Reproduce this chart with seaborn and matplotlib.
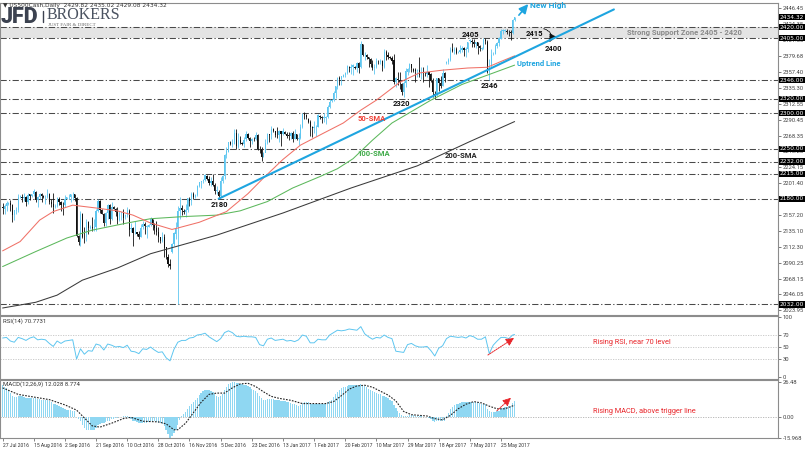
import matplotlib
matplotlib.use("Agg")
import matplotlib.pyplot as plt
import seaborn as sns
import numpy as np

sns.set_theme(style="white")
plt.rcParams['font.family'] = ['Roboto', 'DejaVu Sans']

# ---------------- data (US500Cash, Daily; one bar per session incl. Sunday bars) ----------------
opens = [
    2169, 2166, 2170, 2173, 2174, 2171, 2157, 2163, 2164, 2183,
    2183, 2181, 2182, 2175, 2186, 2184, 2186, 2190, 2178, 2182,
    2187, 2184, 2182, 2183, 2187, 2175, 2172, 2169, 2170, 2180,
    2176, 2171, 2171, 2180, 2182, 2183, 2186, 2186, 2181, 2128,
    2120, 2159, 2127, 2126, 2147, 2139, 2141, 2139, 2140, 2163,
    2177, 2164, 2159, 2146, 2160, 2171, 2151, 2168, 2166, 2161,
    2150, 2160, 2161, 2154, 2157, 2163, 2137, 2139, 2133, 2133,
    2130, 2127, 2140, 2144, 2141, 2141, 2143, 2151, 2143, 2139,
    2133, 2126, 2121, 2126, 2112, 2098, 2089, 2105, 2116, 2131,
    2140, 2163, 2167, 2163, 2162, 2164, 2180, 2177, 2187, 2182,
    2185, 2198, 2203, 2205, 2206, 2212, 2208, 2202, 2205, 2199,
    2191, 2190, 2184, 2205, 2212, 2241, 2246, 2259, 2257, 2257,
    2272, 2253, 2262, 2258, 2257, 2263, 2271, 2265, 2261, 2264,
    2263, 2269, 2250, 2249, 2239, 2244, 2258, 2271, 2269, 2277,
    2275, 2269, 2269, 2275, 2270, 2274, 2271, 2268, 2268, 2272,
    2264, 2270, 2264, 2265, 2280, 2298, 2297, 2292, 2288, 2281,
    2279, 2280, 2281, 2296, 2294, 2293, 2293, 2295, 2308, 2317,
    2318, 2328, 2337, 2349, 2347, 2351, 2353, 2356, 2365, 2363,
    2364, 2365, 2363, 2370, 2364, 2396, 2382, 2381, 2378, 2375,
    2368, 2363, 2365, 2372, 2371, 2373, 2365, 2385, 2381, 2378,
    2377, 2374, 2344, 2348, 2346, 2341, 2330, 2342, 2358, 2361,
    2368, 2362, 2359, 2359, 2360, 2353, 2357, 2355, 2354, 2357,
    2354, 2345, 2327, 2325, 2349, 2342, 2338, 2356, 2370, 2371,
    2374, 2389, 2387, 2389, 2385, 2386, 2388, 2391, 2388, 2389,
    2401, 2401, 2399, 2397, 2399, 2394, 2390, 2391, 2402, 2400,
    2357, 2366, 2382, 2383, 2394, 2398, 2404, 2415, 2415, 2415,
    2413, 2413, 2412, 2429.82]
highs = [
    2174, 2172, 2177, 2175, 2178, 2172, 2164, 2168, 2186, 2185,
    2186, 2188, 2184, 2188, 2187, 2187, 2194, 2191, 2184, 2188,
    2188, 2185, 2185, 2194, 2188, 2180, 2188, 2172, 2183, 2183,
    2177, 2175, 2185, 2183, 2186, 2187, 2190, 2187, 2182, 2129,
    2163, 2160, 2141, 2152, 2149, 2143, 2154, 2151, 2165, 2179,
    2178, 2165, 2160, 2162, 2173, 2173, 2175, 2170, 2167, 2169,
    2163, 2162, 2165, 2158, 2169, 2165, 2146, 2140, 2149, 2134,
    2135, 2145, 2149, 2147, 2143, 2144, 2155, 2152, 2146, 2149,
    2141, 2127, 2133, 2131, 2113, 2102, 2096, 2118, 2133, 2147,
    2170, 2182, 2171, 2165, 2172, 2181, 2182, 2189, 2190, 2186,
    2199, 2204, 2205, 2208, 2214, 2213, 2212, 2211, 2214, 2202,
    2198, 2192, 2210, 2213, 2242, 2252, 2260, 2261, 2263, 2278,
    2277, 2272, 2268, 2260, 2267, 2275, 2272, 2266, 2265, 2266,
    2274, 2271, 2254, 2253, 2246, 2264, 2272, 2271, 2282, 2279,
    2275, 2280, 2276, 2275, 2279, 2275, 2273, 2273, 2273, 2275,
    2277, 2271, 2272, 2284, 2300, 2301, 2299, 2293, 2290, 2282,
    2289, 2283, 2299, 2297, 2296, 2300, 2296, 2311, 2319, 2319,
    2331, 2338, 2351, 2352, 2352, 2354, 2357, 2367, 2366, 2369,
    2368, 2366, 2371, 2371, 2401, 2397, 2386, 2382, 2379, 2377,
    2374, 2369, 2377, 2374, 2376, 2374, 2390, 2388, 2385, 2380,
    2380, 2382, 2351, 2358, 2357, 2342, 2345, 2363, 2363, 2370,
    2369, 2363, 2363, 2361, 2379, 2364, 2365, 2357, 2367, 2358,
    2356, 2349, 2331, 2349, 2349, 2352, 2361, 2357, 2373, 2377,
    2392, 2398, 2392, 2392, 2387, 2395, 2394, 2392, 2392, 2400,
    2403, 2404, 2404, 2400, 2399, 2395, 2392, 2405, 2405, 2402,
    2375, 2390, 2385, 2396, 2400, 2406, 2418, 2417, 2417, 2417,
    2416, 2416, 2431, 2435.02]
lows = [
    2159, 2159, 2163, 2171, 2163, 2148, 2150, 2158, 2162, 2181,
    2176, 2177, 2170, 2173, 2178, 2183, 2184, 2175, 2168, 2179,
    2176, 2181, 2172, 2181, 2172, 2168, 2160, 2167, 2168, 2171,
    2163, 2157, 2169, 2179, 2179, 2175, 2178, 2177, 2127, 2115,
    2114, 2125, 2118, 2121, 2130, 2137, 2135, 2135, 2135, 2162,
    2160, 2158, 2142, 2142, 2151, 2145, 2150, 2165, 2156, 2145,
    2149, 2150, 2144, 2152, 2155, 2128, 2133, 2114, 2131, 2128,
    2124, 2126, 2137, 2131, 2125, 2140, 2142, 2136, 2131, 2129,
    2119, 2118, 2120, 2098, 2096, 2085, 2082, 2104, 2114, 2124,
    2032, 2151, 2157, 2158, 2154, 2162, 2170, 2171, 2180, 2181,
    2184, 2197, 2195, 2202, 2205, 2206, 2199, 2198, 2198, 2187,
    2187, 2180, 2183, 2202, 2208, 2237, 2245, 2255, 2252, 2256,
    2249, 2251, 2256, 2255, 2253, 2261, 2263, 2253, 2257, 2261,
    2262, 2248, 2244, 2233, 2238, 2245, 2257, 2260, 2264, 2274,
    2267, 2265, 2260, 2254, 2269, 2270, 2265, 2262, 2263, 2259,
    2263, 2262, 2255, 2264, 2279, 2292, 2291, 2286, 2268, 2267,
    2272, 2268, 2280, 2292, 2286, 2288, 2285, 2293, 2307, 2315,
    2317, 2321, 2334, 2339, 2339, 2350, 2351, 2354, 2357, 2355,
    2353, 2361, 2358, 2356, 2363, 2380, 2374, 2376, 2365, 2365,
    2360, 2354, 2363, 2369, 2368, 2359, 2363, 2374, 2376, 2375,
    2368, 2341, 2336, 2339, 2334, 2325, 2322, 2336, 2353, 2358,
    2358, 2357, 2344, 2350, 2351, 2348, 2344, 2352, 2351, 2337,
    2343, 2322, 2320, 2324, 2331, 2335, 2338, 2344, 2368, 2369,
    2373, 2386, 2382, 2382, 2384, 2384, 2385, 2380, 2378, 2386,
    2398, 2393, 2392, 2391, 2382, 2387, 2388, 2390, 2396, 2356,
    2346, 2364, 2381, 2382, 2391, 2394, 2403, 2410, 2413, 2411,
    2408, 2402, 2410, 2429.08]
closes = [
    2166.6, 2170.1, 2173.6, 2174, 2170.8, 2157.0, 2163.8, 2164.3, 2182.9, 2183,
    2180.9, 2181.7, 2175.5, 2185.8, 2184.1, 2186, 2190.2, 2178.2, 2182.2, 2187.0,
    2183.9, 2182, 2182.6, 2186.9, 2175.4, 2172.5, 2169.0, 2170, 2180.4, 2176.1,
    2171.0, 2170.9, 2180.0, 2182, 2183, 2186.5, 2186.2, 2181.3, 2127.8, 2120,
    2159.0, 2127.0, 2125.8, 2147.3, 2139.2, 2141, 2139.1, 2139.8, 2163.1, 2177.2,
    2164.7, 2159, 2146.1, 2159.9, 2171.4, 2151.1, 2168.3, 2166, 2161.2, 2150.5,
    2159.7, 2160.8, 2153.7, 2157, 2163.7, 2136.7, 2139.2, 2132.6, 2133.0, 2130,
    2126.5, 2139.6, 2144.3, 2141.3, 2141.2, 2143, 2151.3, 2143.2, 2139.4, 2133.0,
    2126.4, 2121, 2126.2, 2111.7, 2097.9, 2088.7, 2085.2, 2116, 2131.5, 2139.6,
    2163.3, 2167.5, 2164.5, 2162, 2164.2, 2180.4, 2176.9, 2187.1, 2181.9, 2185,
    2198.2, 2202.9, 2204.7, 2206, 2213.4, 2208, 2201.7, 2204.7, 2198.8, 2191.1,
    2192.0, 2184, 2204.7, 2212.2, 2241.4, 2246.2, 2259.5, 2257, 2257.0, 2271.7,
    2253.3, 2262.0, 2258.1, 2257, 2262.5, 2270.8, 2265.2, 2261.0, 2263.8, 2263,
    2268.9, 2249.9, 2249.3, 2238.8, 2244, 2257.8, 2270.8, 2269.0, 2277.0, 2275,
    2268.9, 2268.9, 2275.3, 2270.4, 2274.6, 2271, 2268, 2267.9, 2271.9, 2263.7,
    2271.3, 2264, 2265.2, 2280.1, 2298.4, 2296.7, 2294.7, 2288, 2280.9, 2278.9,
    2279.6, 2280.9, 2297.4, 2294, 2292.6, 2293.1, 2294.7, 2307.9, 2316.1, 2318,
    2328.3, 2337.6, 2349.3, 2347.2, 2351.2, 2353, 2356, 2365.4, 2362.8, 2363.8,
    2367.3, 2363, 2369.8, 2363.6, 2396.0, 2381.9, 2383.1, 2378, 2375.3, 2368.4,
    2363.0, 2364.9, 2372.6, 2371, 2373.5, 2365.5, 2385.3, 2381.4, 2378.3, 2377,
    2373.5, 2344.0, 2348.5, 2346.0, 2344.0, 2330, 2341.6, 2358.6, 2361.1, 2368.1,
    2362.7, 2359, 2358.8, 2360.2, 2353.0, 2357.5, 2355.5, 2354, 2357.2, 2353.8,
    2344.9, 2329.0, 2325, 2349.0, 2342.2, 2338.2, 2355.8, 2348.7, 2371, 2374.2,
    2388.6, 2387.5, 2388.8, 2384.2, 2386, 2388.3, 2391.2, 2388.1, 2389.5, 2399.3,
    2401, 2399.4, 2396.9, 2399.6, 2394.4, 2390.9, 2391, 2402.3, 2400.7, 2357.0,
    2365.7, 2381.7, 2383, 2394.0, 2398.4, 2404.4, 2415.1, 2415.8, 2415, 2413,
    2412.9, 2411.8, 2430.1, 2434.32]

# moving averages (bar number, value)
sma50_bars = [0, 9, 19, 26, 36, 48, 59, 67, 76, 87, 90, 101, 115, 126, 134, 144, 153,
              165, 175, 184, 192, 204, 214, 226, 239, 249, 255, 263]
sma50_vals = [2107, 2120, 2150, 2162, 2171, 2167, 2163, 2157, 2146, 2137, 2139, 2147,
              2162, 2187, 2209, 2235, 2255, 2272, 2286, 2304, 2318, 2343, 2356, 2360,
              2363, 2364, 2371, 2380]
sma100_bars = [0, 17, 33, 46, 64, 76, 93, 110, 122, 136, 149, 163, 172, 180, 190, 200,
               210, 220, 236, 249, 263]
sma100_vals = [2085, 2106, 2125, 2136, 2146, 2152, 2155, 2157, 2163, 2176, 2195, 2211,
               2222, 2236, 2262, 2286, 2302, 2318, 2340, 2353, 2367]
sma200_bars = [0, 17, 28, 41, 59, 76, 110, 144, 179, 213, 240, 263]
sma200_vals = [2027, 2035, 2045, 2066, 2083, 2103, 2129, 2160, 2195, 2226, 2260, 2288]

trend_bars = [111, 314]
trend_prices = [2180, 2445]

zone_low, zone_high = 2405, 2420
level_lines = [2420, 2405, 2346, 2320, 2300, 2250, 2232, 2215, 2180, 2032]
box_levels = [2434.32, 2420, 2405, 2346, 2320, 2300, 2250, 2232, 2215, 2180, 2032]
price_ticks = [2446.45, 2424.35, 2401.80, 2379.68, 2357.40, 2335.30, 2312.55, 2290.45,
               2268.35, 2246.25, 2224.15, 2201.40, 2157.20, 2135.10, 2112.30, 2090.25,
               2068.15, 2046.05, 2023.95]

# RSI(14) read every second bar
rsi_bars = list(range(0, 264, 2)) + [263]
rsi_vals = [
    65, 66, 60, 58, 66, 64, 61, 65, 67, 62,
    63, 62, 56, 51, 60, 56, 60, 61, 62, 30,
    47, 38, 44, 43, 55, 53, 45, 55, 53, 50,
    51, 49, 53, 43, 42, 39, 47, 46, 50, 45,
    41, 42, 32, 27, 46, 58, 61, 61, 65, 66,
    70, 71, 73, 67, 63, 59, 64, 74, 77, 74,
    68, 67, 68, 67, 67, 66, 54, 52, 63, 65,
    61, 62, 63, 60, 61, 59, 62, 70, 68, 57,
    57, 63, 62, 62, 70, 74, 78, 77, 78, 80,
    79, 78, 84, 72, 67, 63, 66, 65, 70, 66,
    64, 43, 42, 41, 54, 56, 52, 50, 50, 51,
    44, 35, 48, 52, 64, 68, 67, 66, 67, 65,
    69, 67, 63, 63, 67, 39, 53, 60, 66, 66,
    64, 70, 70.77]
rsi_levels = [70, 50, 30]
rsi_ticks = [100, 70, 50, 30, 0]

# MACD(12,26,9) main (histogram, every bar) and signal line
macd_vals = [
    24.5, 23, 22, 20.5, 18, 16, 15, 15, 15.5, 15.5,
    15.5, 15, 14.5, 14.5, 14.5, 14.5, 14.5, 14, 13.5, 13.5,
    13, 13, 12.5, 12.5, 12, 11, 10, 9.5, 9, 8.5,
    7.5, 6.5, 6, 5, 5, 5, 4.5, 4, 0, -2,
    -3, -6, -9, -10, -10.5, -10.5, -10.5, -10, -8.5, -6.5,
    -5.5, -5, -5, -4, -3, -3, -2, -1.5, -1, -1,
    -0.5, 0, 0.3, 0.3, 0.5, -1, -2, -3, -3.5, -4,
    -5, -5, -4.5, -4.5, -4.5, -4, -3.5, -3.5, -3.5, -4,
    -4.5, -5, -5.5, -7, -10, -13, -15.97, -14.5, -12.5, -10.5,
    -6, -2.5, 0.5, 2, 3.5, 6, 8, 10, 11, 12.5,
    14.5, 16.5, 18, 19.5, 20.5, 20.5, 20, 19.5, 18.5, 17,
    16, 15, 16, 17.5, 20.5, 23, 25, 26, 26.2, 26.48,
    26, 25.5, 25, 25, 24.5, 24.5, 23.5, 22.5, 21.5, 20.5,
    19.5, 18, 16, 14, 13, 13, 13.5, 13.5, 13.5, 13.5,
    13, 12.5, 12.5, 12, 12, 12, 11.5, 11, 10.5, 10,
    9.5, 9, 8.5, 9, 10.5, 11, 11.5, 11, 10, 9.5,
    9.5, 9.5, 10, 10, 10, 10, 10, 11, 12, 13,
    15, 17, 19, 20.5, 22, 22.5, 23, 23.5, 24, 24,
    24, 24, 24, 23.5, 25, 24.5, 23.5, 22.5, 21.5, 20.5,
    19.5, 18.5, 18, 17.5, 17, 16, 16, 15, 14, 13,
    12, 9, 6.5, 4.5, 3, 1.5, 0.5, 0.5, 0.5, 1,
    1, 1, 0.8, 0.7, 0.5, 0.3, 0, 0, -0.5, -1,
    -1.5, -3, -4, -3.5, -3.5, -3.5, -3, -3, 0.5, 3,
    6, 7.5, 9, 9.5, 10, 10.5, 11, 11, 11, 11.5,
    11.5, 11.5, 11.5, 11.5, 11, 10.5, 10, 10, 9.5, 6,
    4, 3.5, 3.5, 3.5, 4, 4.5, 5.5, 6.5, 7, 7.5,
    8, 8.5, 10.5, 12.03]
signal_bars = [0, 8, 16, 24, 32, 38, 42, 46, 50, 56, 62, 66, 72, 80, 84, 88, 90, 94, 98,
               102, 106, 110, 114, 118, 122, 126, 130, 134, 138, 142, 148, 154, 160, 166,
               170, 174, 178, 182, 186, 190, 194, 198, 202, 206, 210, 214, 218, 222, 226,
               230, 234, 238, 242, 246, 250, 254, 258, 263]
signal_vals = [22, 17, 15, 13, 9, 5, -1, -7, -8, -5, -1.5, -0.5, -3.5, -4, -5.5, -10, -10,
               -5, 3, 11, 17, 18, 18, 22, 25, 25.5, 23, 19, 15.5, 14, 12.5, 10, 10, 10,
               11.5, 16, 21, 23.5, 24, 22.5, 19.5, 16.5, 12, 4, 1.5, 1, 0.5, -1.5, -2.5,
               1, 6, 9.5, 11.5, 10.5, 8, 6, 6, 8.77]
macd_ticks = [26.48, 0.0, -15.968]
macd_tick_labels = ['26.48', '0.00', '-15.968']

tick_bars = [0, 16, 32, 48, 64, 80, 96, 112, 128, 144, 160, 176, 192, 208, 224, 240, 256]
tick_labels = ['27 Jul 2016', '15 Aug 2016', '2 Sep 2016', '21 Sep 2016', '10 Oct 2016',
               '28 Oct 2016', '16 Nov 2016', '5 Dec 2016', '23 Dec 2016', '13 Jan 2017',
               '1 Feb 2017', '20 Feb 2017', '10 Mar 2017', '29 Mar 2017', '18 Apr 2017',
               '7 May 2017', '25 May 2017']

assert len(opens) == len(highs) == len(lows) == len(closes) == len(macd_vals) == 264
assert len(rsi_bars) == len(rsi_vals)
assert len(signal_bars) == len(signal_vals)

# ---------------- styling ----------------
UP = '#5ec6f0'
DOWN = '#111111'
TREND = '#1ea5e0'
RED = '#e8262b'

W, H = 806.0, 450.0
fig = plt.figure(figsize=(W / 100, H / 100), dpi=100)
fig.patch.set_facecolor('white')


def panel(x0, y0, x1, y1):
    return fig.add_axes([x0 / W, 1 - y1 / H, (x1 - x0) / W, (y1 - y0) / H])


axp = panel(0, 3, 778, 315)
axr = panel(0, 316, 778, 379)
axm = panel(0, 380, 778, 438)
XL = (-1.34, 398.3)
for ax in (axp, axr, axm):
    ax.set_xlim(*XL)
    ax.set_facecolor('white')
    ax.grid(False)
    for s in ax.spines.values():
        s.set_color('#8c8c8c')
        s.set_linewidth(0.8)
    ax.yaxis.tick_right()
    ax.tick_params(axis='y', right=True, left=False, labelsize=4.2, length=2,
                   width=0.5, pad=1.5, colors='#444444')
    ax.set_xlabel('')
    ax.set_ylabel('')
axp.set_xticks([])
axr.set_xticks([])

# ---------------- price panel ----------------
bars = np.arange(len(closes))
o = np.array(opens, float)
h = np.array(highs, float)
l = np.array(lows, float)
c = np.array(closes, float)
cols = np.where(c >= o, UP, DOWN)

axp.set_ylim(2017.2, 2454)
axp.axhspan(zone_low, zone_high, color='#e4e4e4', lw=0, zorder=0.5)
for lv in level_lines:
    axp.axhline(lv, color='#4a4a4a', lw=0.75, dashes=(6, 2.2, 1.2, 2.2), zorder=1)

axp.vlines(bars, l, h, colors=cols, lw=0.6, zorder=3)
axp.bar(bars, np.maximum(np.abs(c - o), 0.8), bottom=np.minimum(o, c), width=0.62,
        color=cols, linewidth=0, zorder=3)

sns.lineplot(x=sma200_bars, y=sma200_vals, ax=axp, color='#3a3a3a', linewidth=0.75, zorder=4)
sns.lineplot(x=sma100_bars, y=sma100_vals, ax=axp, color='#5cb85c', linewidth=0.75, zorder=4)
sns.lineplot(x=sma50_bars, y=sma50_vals, ax=axp, color='#f07167', linewidth=0.75, zorder=4)
sns.lineplot(x=trend_bars, y=trend_prices, ax=axp, color=TREND, linewidth=1.5, zorder=5)

axp.set_yticks(price_ticks)
axp.set_yticklabels([f'{v:.2f}' for v in price_ticks])
axp.set_ylim(2017.2, 2454)
axp.set_xlim(*XL)
axp.set_xlabel('')
axp.set_ylabel('')
tr = axp.get_yaxis_transform()
for lv in box_levels:
    axp.text(1.0025, lv, f'{lv:.2f}', transform=tr, ha='left', va='center', fontsize=4.2,
             color='white', family=['DejaVu Sans'],
             bbox=dict(boxstyle='square,pad=0.12', fc='black', ec='none'),
             zorder=20, clip_on=False)


def label(ax, x, y, s, color, size=5.5, ha='center', weight='bold'):
    ax.text(x, y, s, color=color, fontsize=size, ha=ha, va='center', fontweight=weight,
            zorder=8)


label(axp, 240.1, 2410.6, '2405', '#111111')
label(axp, 250.3, 2339, '2346', '#111111')
label(axp, 205, 2314, '2320', '#111111')
label(axp, 111.4, 2172.6, '2180', '#111111')
label(axp, 273.2, 2412, '2415', '#111111')
label(axp, 282.9, 2391, '2400', '#111111')
label(axp, 270.9, 2451.0, 'New High', TREND, size=6, ha='left')
label(axp, 264.2, 2370, 'Uptrend Line', TREND, size=5.5, ha='left')
label(axp, 320.7, 2412.5, 'Strong Support Zone 2405 - 2420', '#8a8a8a', size=5.5, ha='left')
label(axp, 182.5, 2293, '50-SMA', '#ee4036', ha='left')
label(axp, 182.0, 2244, '100-SMA', '#3daa47', ha='left')
label(axp, 227.2, 2241, '200-SMA', '#222222', ha='left')

axp.annotate('', xy=(270.0, 2452.5), xytext=(265.2, 2437),
             arrowprops=dict(arrowstyle='-|>,head_length=0.45,head_width=0.22', color=TREND,
                             lw=1.2, shrinkA=0, shrinkB=0), annotation_clip=False)
axp.annotate('', xy=(280.8, 2399), xytext=(278.0, 2418),
             arrowprops=dict(arrowstyle='-|>,head_length=0.4,head_width=0.2', color='#111111',
                             lw=0.7, linestyle=(0, (1, 1)), connectionstyle='arc3,rad=-0.6',
                             shrinkA=0, shrinkB=0))

# header & logo
fig.text(3 / W, 1 - 5 / H, '\u25bc US500Cash,Daily  2429.82 2435.02 2429.08 2434.32',
         fontsize=4.2, color='#333333', va='center', ha='left', family=['DejaVu Sans'])
fig.text(1 / W, 1 - 17 / H, 'JFD', fontsize=15.5, fontweight='heavy', color='#3c4250',
         va='center', ha='left')
fig.add_artist(plt.Line2D([42.5 / W, 42.5 / W], [1 - 11 / H, 1 - 22 / H], color='#3c4250',
                          lw=1.0))
fig.text(47 / W, 1 - 15 / H, 'BROKERS', fontsize=11.5, family=['Liberation Serif'],
         color='#4a5260', va='center', ha='left')
fig.text(48 / W, 1 - 24.5 / H, 'JUST FAIR & DIRECT', fontsize=3.6,
         family=['Liberation Serif'], color='#666666', va='center', ha='left')

# ---------------- RSI panel ----------------
axr.set_ylim(-3.3, 101.7)
for lv in rsi_levels:
    axr.axhline(lv, color='#c4c4c4', lw=0.6, ls=(0, (1.5, 1.5)), zorder=1)
sns.lineplot(x=rsi_bars, y=rsi_vals, ax=axr, color='#5ec6f0', linewidth=0.7, zorder=3)
axr.set_yticks(rsi_ticks)
axr.set_yticklabels([str(v) for v in rsi_ticks])
axr.set_ylim(-3.3, 101.7)
axr.set_xlim(*XL)
axr.set_xlabel('')
axr.set_ylabel('')
axr.text(0.004, 0.92, 'RSI(14) 70.7731', transform=axr.transAxes, fontsize=4.3,
         color='#333333', va='center', ha='left')
axr.text(303.2, 56.7, 'Rising RSI, near 70 level', color=RED, fontsize=5.3, ha='left',
         va='center')
axr.annotate('', xy=(262.7, 65), xytext=(249.3, 36.7),
             arrowprops=dict(arrowstyle='-|>,head_length=0.4,head_width=0.2', color=RED,
                             lw=0.7, linestyle=(0, (1.5, 1)), shrinkA=0, shrinkB=0))

# ---------------- MACD panel ----------------
axm.set_ylim(-16.3, 28.0)
axm.axhline(0, color='#b0b0b0', lw=0.6, ls=(0, (1.5, 1.5)), zorder=1)
axm.bar(bars, macd_vals, width=0.7, color='#8fd7f2', linewidth=0, zorder=2)
sns.lineplot(x=signal_bars, y=signal_vals, ax=axm, color='#222222', linewidth=0.8,
             linestyle=(0, (1.5, 1.2)), zorder=3)
axm.set_yticks(macd_ticks)
axm.set_yticklabels(macd_tick_labels)
axm.set_ylim(-16.3, 28.0)
axm.set_xlim(*XL)
axm.set_xlabel('')
axm.set_ylabel('')
axm.set_xticks(tick_bars)
axm.set_xticklabels(tick_labels, fontsize=3.6, ha='left', color='#333333')
axm.tick_params(axis='x', bottom=True, length=2, width=0.5, pad=1.5, colors='#555555',
                labelcolor='#333333')
axm.text(0.004, 0.93, 'MACD(12,26,9) 12.028 8.774', transform=axm.transAxes, fontsize=4.3,
         color='#333333', va='center', ha='left')
axm.text(303.2, 3.8, 'Rising MACD, above trigger line', color=RED, fontsize=5.3, ha='left',
         va='center')
axm.annotate('', xy=(261.1, 14.4), xytext=(253.9, 4.5),
             arrowprops=dict(arrowstyle='-|>,head_length=0.4,head_width=0.2', color=RED,
                             lw=0.7, linestyle=(0, (1.5, 1)), shrinkA=0, shrinkB=0))

fig.savefig('out.png', dpi=100)
